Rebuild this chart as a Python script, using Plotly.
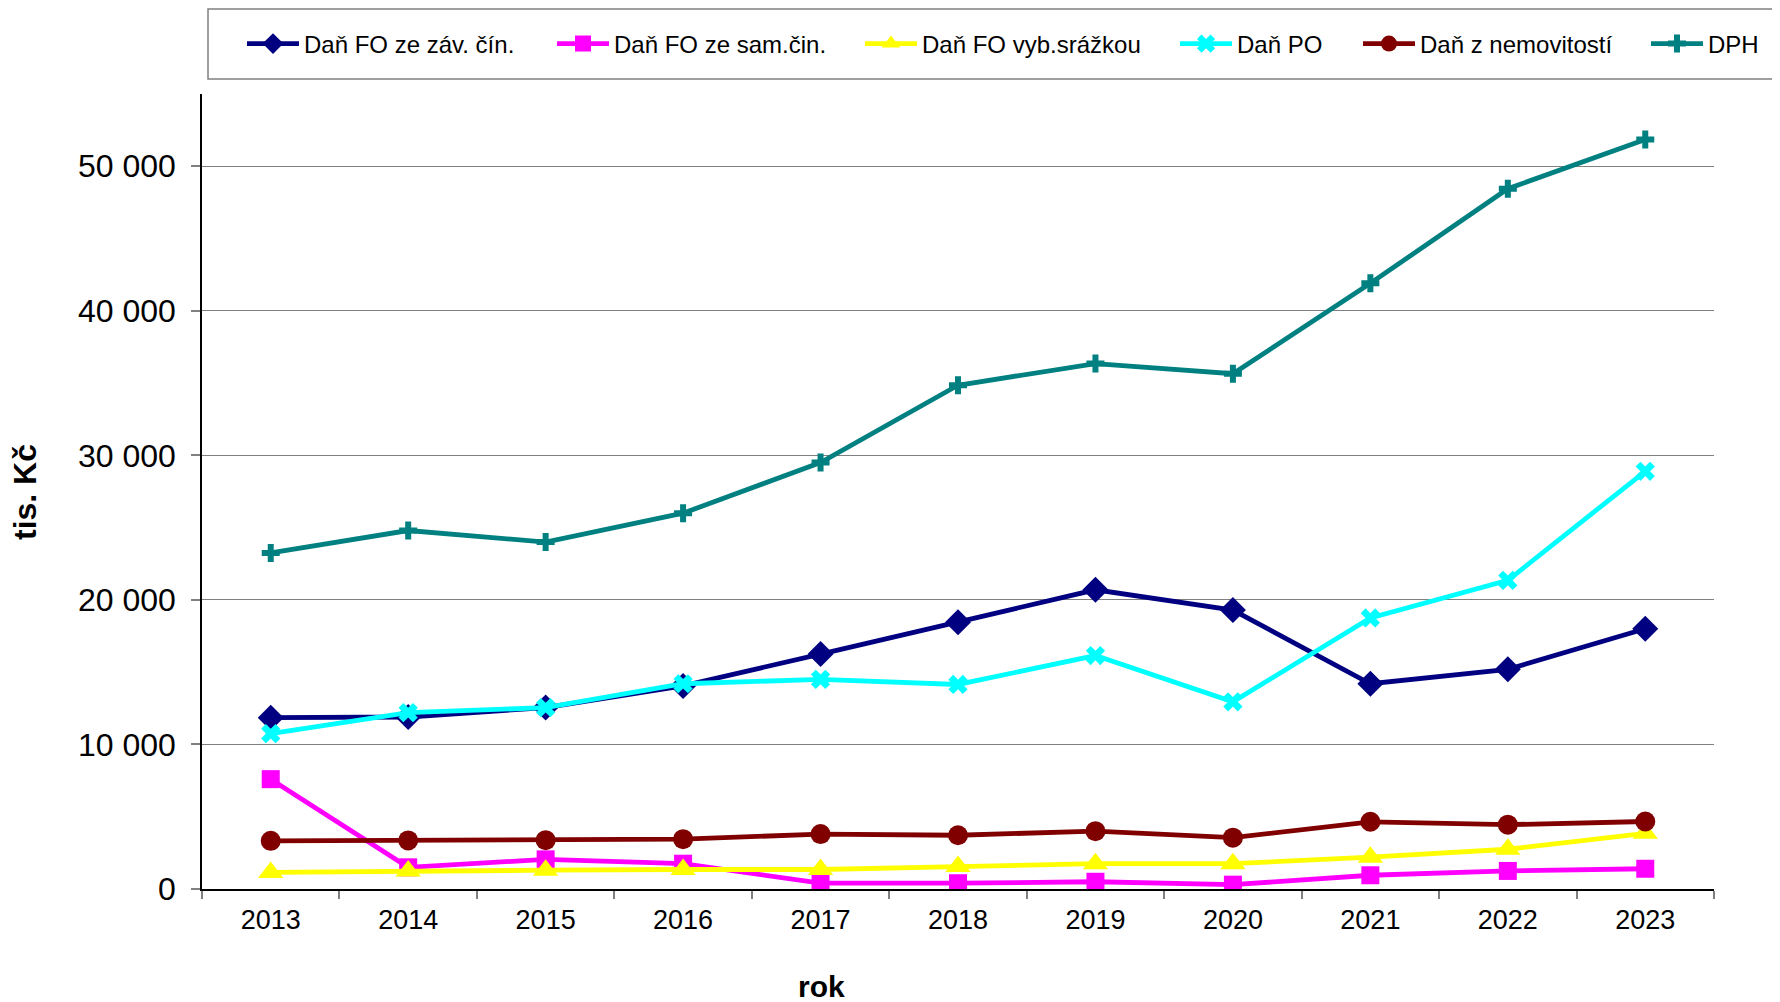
import plotly.graph_objects as go

years = ["2013", "2014", "2015", "2016", "2017", "2018", "2019", "2020", "2021", "2022", "2023"]

dan_fo_zav = [11850, 11900, 12550, 14050, 16250, 18450, 20700, 19300, 14200, 15200, 18000]
dan_fo_sam = [7600, 1500, 2050, 1750, 400, 400, 500, 300, 950, 1250, 1400]
dan_fo_srazka = [1150, 1250, 1300, 1350, 1350, 1550, 1750, 1750, 2200, 2750, 3850]
dan_po = [10750, 12200, 12550, 14200, 14500, 14150, 16150, 12950, 18750, 21350, 28900]
dan_nemov = [3330, 3360, 3380, 3450, 3800, 3720, 4000, 3550, 4650, 4450, 4670]
dph = [23250, 24800, 24000, 26000, 29500, 34850, 36350, 35650, 41900, 48450, 51850]

series_names = ["Daň FO ze záv. čín.", "Daň FO ze sam.čin.", "Daň FO vyb.srážkou",
                "Daň PO", "Daň z nemovitostí", "DPH"]
series_values = [dan_fo_zav, dan_fo_sam, dan_fo_srazka, dan_po, dan_nemov, dph]

colors = ["#000080", "#FF00FF", "#FFFF00", "#00FFFF", "#800000", "#008080"]
symbols = ["diamond", "square", "triangle-up", "x", "circle", "cross"]
sizes = [20, 18, 22, 17, 20, 15]

FONT = "Arial, 'Liberation Sans', sans-serif"

# page offset of the plot div inside the html body (default body margin)
OFF = 8
W, H = 1780 - OFF, 1002 - OFF
# plot area in reference pixel coordinates
L, R, T, B = 202, 1714, 94, 889
pw, ph = R - L, B - T


def px_x(x):
    return (x - L) / pw


def px_y(y):
    return (B - y) / ph


ITEMW = 52
legend_x_px = [242, 552, 860, 1175, 1358, 1646]
legend_keys = ["legend", "legend2", "legend3", "legend4", "legend5", "legend6"]

fig = go.Figure()
for i, (name, vals) in enumerate(zip(series_names, series_values)):
    fig.add_trace(go.Scatter(
        x=years, y=vals, name=name, legend=legend_keys[i],
        mode="lines+markers",
        line=dict(color=colors[i], width=4.8),
        marker=dict(symbol=symbols[i], size=sizes[i], color=colors[i],
                    line=dict(width=0)),
    ))

legend_layout = {}
for i, key in enumerate(legend_keys):
    legend_layout[key] = dict(
        orientation="h",
        x=px_x(legend_x_px[i]), xanchor="left",
        y=px_y(44), yanchor="middle",
        font=dict(size=24, family=FONT, color="black"),
        bgcolor="rgba(0,0,0,0)", borderwidth=0,
        itemwidth=ITEMW,
    )

fig.update_layout(
    width=W, height=H,
    margin=dict(l=L - OFF, r=W - (R - OFF), t=T - OFF, b=H - (B - OFF), pad=0),
    paper_bgcolor="white", plot_bgcolor="white",
    font=dict(family=FONT, color="black"),
    separators=", ",
    showlegend=True,
    shapes=[dict(
        type="rect", xref="paper", yref="paper",
        x0=px_x(208), x1=px_x(1800), y0=px_y(9), y1=px_y(79),
        line=dict(color="#808080", width=1.5), fillcolor="rgba(0,0,0,0)",
        layer="below",
    )],
    annotations=[
        dict(text="<b>tis. Kč</b>", xref="paper", yref="paper",
             x=px_x(25), y=px_y(492), xanchor="center", yanchor="middle",
             textangle=-90, showarrow=False,
             font=dict(size=32, family=FONT, color="black")),
        dict(text="<b>rok</b>", xref="paper", yref="paper",
             x=px_x(821), y=px_y(986), xanchor="center", yanchor="middle",
             showarrow=False,
             font=dict(size=30, family=FONT, color="black")),
    ],
    **legend_layout,
)

fig.update_xaxes(
    type="category", range=[-0.5, 10.5],
    showline=True, linecolor="black", linewidth=1.5,
    ticks="outside", tickson="boundaries", ticklen=8, tickcolor="#808080", tickwidth=1.5,
    tickfont=dict(size=27, family=FONT, color="black"),
    ticklabelstandoff=6,
    showgrid=False, zeroline=False,
)
fig.update_yaxes(
    range=[0, 55000], dtick=10000, tick0=0, tickformat=",d",
    showline=True, linecolor="black", linewidth=1.5,
    ticks="outside", ticklen=9, tickcolor="#808080", tickwidth=1.5,
    tickfont=dict(size=32, family=FONT, color="black"),
    ticklabelstandoff=9,
    showgrid=True, gridcolor="#808080", gridwidth=1,
    zeroline=False,
)

fig.write_html("out.html")
